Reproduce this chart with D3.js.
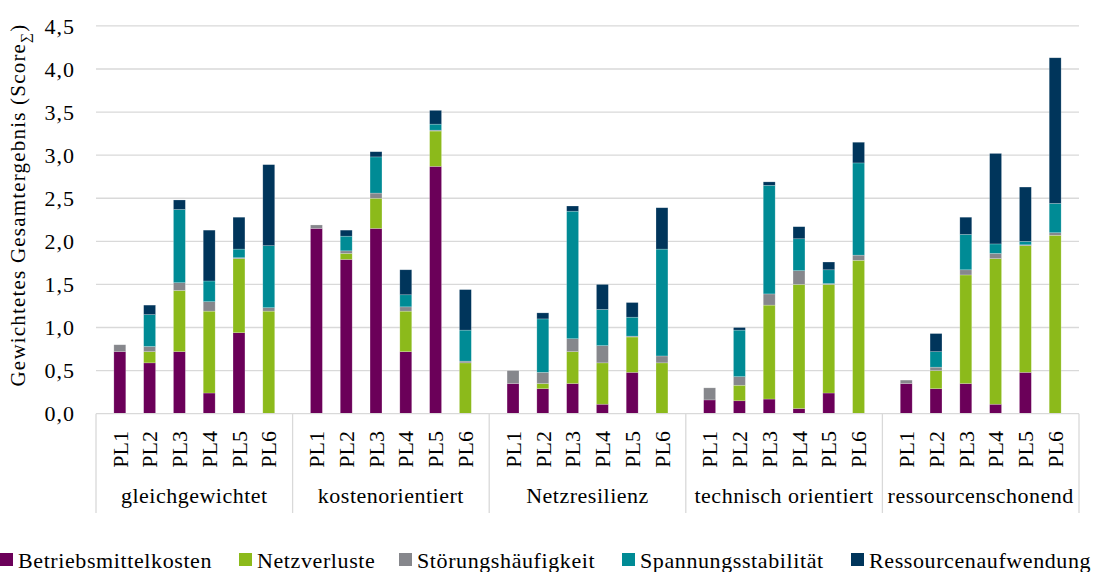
<!DOCTYPE html>
<html>
<head>
<meta charset="utf-8">
<script src="https://cdn.jsdelivr.net/npm/d3@7"></script>
<style>
  body { margin: 0; background: #fff; }
  svg { font-family: "Liberation Serif", "Times New Roman", serif; }
</style>
</head>
<body>
<svg id="chart" width="1100" height="572"></svg>
<script>
// categories
const groups = ["gleichgewichtet", "kostenorientiert", "Netzresilienz", "technisch orientiert", "ressourcenschonend"];
const pls = ["PL1", "PL2", "PL3", "PL4", "PL5", "PL6"];
const seriesNames = ["Betriebsmittelkosten", "Netzverluste", "Störungshäufigkeit", "Spannungsstabilität", "Ressourcenaufwendung"];
const colors = ["#6b0059", "#8cba1b", "#86878c", "#008b95", "#00355b"];

// values, 6 per group in group order
const betriebsmittelkosten = [0.72, 0.59, 0.72, 0.24, 0.94, 0,
                              2.15, 1.79, 2.15, 0.72, 2.87, 0,
                              0.35, 0.29, 0.35, 0.11, 0.48, 0,
                              0.16, 0.15, 0.17, 0.06, 0.24, 0,
                              0.35, 0.29, 0.35, 0.11, 0.48, 0];
const netzverluste = [0, 0.13, 0.71, 0.95, 0.86, 1.19,
                      0, 0.07, 0.35, 0.47, 0.41, 0.59,
                      0, 0.06, 0.37, 0.48, 0.41, 0.59,
                      0, 0.18, 1.09, 1.44, 1.26, 1.78,
                      0, 0.21, 1.26, 1.69, 1.47, 2.07];
const stoerung = [0.08, 0.06, 0.09, 0.11, 0.01, 0.04,
                  0.04, 0.03, 0.06, 0.05, 0.01, 0.02,
                  0.15, 0.13, 0.15, 0.20, 0.01, 0.08,
                  0.14, 0.10, 0.13, 0.16, 0.01, 0.06,
                  0.04, 0.04, 0.06, 0.06, 0.01, 0.03];
const spannung = [0, 0.37, 0.85, 0.24, 0.10, 0.72,
                  0, 0.17, 0.42, 0.14, 0.07, 0.36,
                  0, 0.62, 1.48, 0.42, 0.22, 1.24,
                  0, 0.54, 1.26, 0.37, 0.16, 1.07,
                  0, 0.18, 0.41, 0.11, 0.04, 0.34];
const ressourcen = [0, 0.11, 0.11, 0.59, 0.37, 0.94,
                    0, 0.07, 0.06, 0.29, 0.16, 0.47,
                    0, 0.07, 0.06, 0.29, 0.17, 0.48,
                    0, 0.03, 0.04, 0.14, 0.09, 0.24,
                    0, 0.21, 0.20, 1.05, 0.63, 1.69];
const yTicks = [0, 0.5, 1, 1.5, 2, 2.5, 3, 3.5, 4, 4.5];

const svg = d3.select("#chart");
const plotLeft = 96, plotRight = 1079, plotTop = 25.9, plotBottom = 413.7;
const fontSize = 22;

// build rows for the stack
const rows = [];
groups.forEach((g, gi) => {
  pls.forEach((p, pi) => {
    const i = gi * 6 + pi;
    rows.push({
      group: g, pl: p,
      s0: betriebsmittelkosten[i], s1: netzverluste[i], s2: stoerung[i],
      s3: spannung[i], s4: ressourcen[i]
    });
  });
});

const xGroup = d3.scaleBand().domain(groups).range([plotLeft, plotRight]).padding(0);
const xPl = d3.scaleBand().domain(pls).range([0, xGroup.bandwidth()]).padding(0.6);
const y = d3.scaleLinear().domain([0, 4.5]).range([plotBottom, plotTop]);

const fmt = v => d3.format(".1f")(v).replace(".", ",");

// gridlines
svg.append("g")
  .selectAll("line")
  .data(yTicks.slice(1))
  .join("line")
  .attr("x1", plotLeft).attr("x2", plotRight)
  .attr("y1", d => y(d)).attr("y2", d => y(d))
  .attr("stroke", "#d9d9d9").attr("stroke-width", 1.3);

// y tick labels
svg.append("g")
  .selectAll("text")
  .data(yTicks)
  .join("text")
  .attr("x", 75)
  .attr("y", d => y(d))
  .attr("dy", "0.35em")
  .attr("text-anchor", "end")
  .attr("font-size", fontSize)
  .attr("letter-spacing", 1)
  .attr("fill", "#000")
  .text(fmt);

// y axis title
const yTitle = svg.append("text")
  .attr("transform", "translate(25,205) rotate(-90)")
  .attr("text-anchor", "middle")
  .attr("font-size", 21)
  .attr("letter-spacing", 1.2)
  .attr("fill", "#000");
yTitle.append("tspan").text("Gewichtetes Gesamtergebnis (Score");
yTitle.append("tspan").attr("font-size", 14).attr("dy", 5).text("∑");
yTitle.append("tspan").attr("dy", -5).text(")");

// stacked bars
const keys = ["s0", "s1", "s2", "s3", "s4"];
const stacked = d3.stack().keys(keys)(rows);

svg.append("g")
  .selectAll("g")
  .data(stacked)
  .join("g")
  .attr("fill", (d, i) => colors[i])
  .selectAll("rect")
  .data(d => d)
  .join("rect")
  .attr("x", d => xGroup(d.data.group) + xPl(d.data.pl))
  .attr("width", xPl.bandwidth())
  .attr("y", d => y(d[1]))
  .attr("height", d => y(d[0]) - y(d[1]))
  .attr("stroke", "rgba(255,255,255,0.35)")
  .attr("stroke-width", 0.6);

// x axis line and group separators
svg.append("line")
  .attr("x1", plotLeft).attr("x2", plotRight)
  .attr("y1", plotBottom).attr("y2", plotBottom)
  .attr("stroke", "#d9d9d9").attr("stroke-width", 1.3);

const bounds = groups.map(g => xGroup(g)).concat([plotRight]);
svg.append("g")
  .selectAll("line")
  .data(bounds)
  .join("line")
  .attr("x1", d => d).attr("x2", d => d)
  .attr("y1", plotBottom).attr("y2", 513)
  .attr("stroke", "#d9d9d9").attr("stroke-width", 1.3);

// PL labels
svg.append("g")
  .selectAll("text")
  .data(rows)
  .join("text")
  .attr("transform", d => "translate(" + (xGroup(d.group) + xPl(d.pl) + xPl.bandwidth() / 2) + ",431) rotate(-90)")
  .attr("text-anchor", "end")
  .attr("dy", "0.35em")
  .attr("font-size", fontSize)
  .attr("fill", "#000")
  .text(d => d.pl);

// group labels
svg.append("g")
  .selectAll("text")
  .data(groups)
  .join("text")
  .attr("x", d => xGroup(d) + xGroup.bandwidth() / 2)
  .attr("y", 503)
  .attr("text-anchor", "middle")
  .attr("font-size", fontSize)
  .attr("letter-spacing", 0.5)
  .attr("fill", "#000")
  .text(d => d);

// legend
const legendX = [0, 239, 399, 622, 851];
const legend = svg.append("g")
  .selectAll("g")
  .data(seriesNames)
  .join("g")
  .attr("transform", (d, i) => "translate(" + legendX[i] + ",568)");
legend.append("rect")
  .attr("x", 0).attr("y", -15)
  .attr("width", 13).attr("height", 13)
  .attr("fill", (d, i) => colors[i]);
legend.append("text")
  .attr("x", 18)
  .attr("y", 0)
  .attr("font-size", fontSize)
  .attr("letter-spacing", 0.6)
  .attr("fill", "#000")
  .text(d => d);
</script>
</body>
</html>
